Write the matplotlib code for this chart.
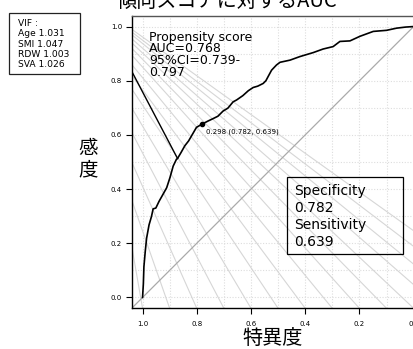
import matplotlib
matplotlib.use("Agg")
import matplotlib.pyplot as plt
from matplotlib.patches import Rectangle

plt.rcParams['font.family'] = ['DejaVu Sans', 'Noto Sans CJK JP']
CJK = ['Noto Sans CJK JP', 'DejaVu Sans']

# ---- data ----
spec = [1.0, 0.997, 0.995, 0.99, 0.985, 0.976, 0.967, 0.961, 0.951, 0.939, 0.930,
        0.911, 0.899, 0.887, 0.875, 0.871, 0.858, 0.844, 0.830, 0.819, 0.801, 0.782,
        0.759, 0.740, 0.722, 0.703, 0.685, 0.666, 0.653, 0.630, 0.610, 0.592, 0.575,
        0.555, 0.545, 0.537, 0.524, 0.506, 0.493, 0.456, 0.420, 0.370, 0.334, 0.297,
        0.272, 0.235, 0.198, 0.149, 0.100, 0.063, 0.030, 0.0]
sens = [0.0, 0.05, 0.113, 0.17, 0.219, 0.268, 0.299, 0.327, 0.330, 0.355, 0.371,
        0.405, 0.442, 0.485, 0.510, 0.513, 0.535, 0.560, 0.578, 0.597, 0.628, 0.639,
        0.651, 0.660, 0.669, 0.688, 0.699, 0.722, 0.729, 0.745, 0.763, 0.775, 0.780,
        0.790, 0.800, 0.815, 0.839, 0.858, 0.868, 0.876, 0.889, 0.904, 0.917, 0.926,
        0.945, 0.947, 0.964, 0.982, 0.986, 0.994, 0.998, 1.0]

best_threshold = 0.298
best_spec = 0.782
best_sens = 0.639
auc = 0.768
ci_low, ci_high = 0.739, 0.797
model_name = "Propensity score"

vif_names = ["Age", "SMI", "RDW", "SVA"]
vif_values = [1.031, 1.047, 1.003, 1.026]

# black reference segment: (spec, sens) end points
seg_spec = [1.04, 0.871]
seg_sens = [0.835, 0.513]

# gray fan lines: height where each meets the left edge, and spec where it meets the bottom edge
fan_left_sens = [0.19, 0.36, 0.50, 0.61, 0.70, 0.77, 0.82, 0.86, 0.895, 0.92, 0.94,
                 0.955, 0.97, 0.98, 0.99]
fan_bottom_spec = [1.0, 0.9, 0.8, 0.7, 0.6, 0.5, 0.4, 0.3, 0.2, 0.1, 0.0,
                   -0.1, -0.2, -0.3, -0.4]

x_ticks = [1.0, 0.8, 0.6, 0.4, 0.2, 0.0]
y_ticks = [0.0, 0.2, 0.4, 0.6, 0.8, 1.0]
grid_vals = [i / 10 for i in range(11)]

title = "傾向スコアに対するAUC"
xlabel = "特異度"
ylabel = "感度"

# ---- figure ----
W, H = 414, 349
fig = plt.figure(figsize=(W / 100, H / 100), dpi=100)

def fx(px):
    return px / W

def fy(py):
    return 1 - py / H

ax = fig.add_axes([fx(131.7), fy(308.3), (424.5 - 131.7) / W, (308.3 - 15.7) / H])
ax.set_xlim(1.04, -0.04)
ax.set_ylim(-0.04, 1.04)

for g in grid_vals:
    ax.axvline(g, color='#dddddd', lw=0.8, ls=(0, (1, 1.5)), zorder=0)
    ax.axhline(g, color='#dddddd', lw=0.8, ls=(0, (1, 1.5)), zorder=0)

for h, b in zip(fan_left_sens, fan_bottom_spec):
    ax.plot([1.04, b], [h, -0.04], color='#d6d6d6', lw=0.8, zorder=1)

ax.plot([1.04, -0.04], [-0.04, 1.04], color='#aaaaaa', lw=0.9, zorder=2)
ax.plot(seg_spec, seg_sens, color='black', lw=1.0, zorder=3)
ax.plot(spec, sens, color='black', lw=1.2, zorder=4)
ax.plot([best_spec], [best_sens], 'o', color='black', ms=3, zorder=5)
ax.text(best_spec - 0.016, best_sens - 0.027,
        f"{best_threshold:.3f} ({best_spec:.3f}, {best_sens:.3f})",
        fontsize=5, va='center', ha='left', zorder=6)

ax.set_xticks(x_ticks)
ax.set_xticklabels([f"{v:.1f}" for v in x_ticks])
ax.set_yticks(y_ticks)
ax.set_yticklabels([f"{v:.1f}" for v in y_ticks])
ax.tick_params(axis='both', direction='out', length=4.5, width=0.8, labelsize=5)
ax.tick_params(axis='x', pad=5)
ax.tick_params(axis='y', pad=2.5)
for s in ax.spines.values():
    s.set_color('black')
    s.set_linewidth(1.0)
ax.spines['top'].set_color('#555555')

# AUC text block
auc_lines = [model_name, f"AUC={auc:.3f}", f"95%CI={ci_low:.3f}-", f"{ci_high:.3f}"]
fig.text(fx(149), fy(31), "\n".join(auc_lines), fontsize=9, ha='left', va='top',
         linespacing=0.85)

# Spec / Sens box
fig.patches.append(Rectangle((fx(286.7), fy(254)), (402.7 - 286.7) / W, (254 - 176.7) / H,
                             transform=fig.transFigure, fill=False, ec='black', lw=0.9,
                             figure=fig))
box_lines = ["Specificity", f"{best_spec:.3f}", "Sensitivity", f"{best_sens:.3f}"]
for i, t in enumerate(box_lines):
    fig.text(fx(294), fy(191 + 16.9 * i), t, fontsize=10, ha='left', va='center')

# VIF box
fig.patches.append(Rectangle((fx(9.3), fy(74)), (80 - 9.3) / W, (74 - 13.3) / H,
                             transform=fig.transFigure, fill=False, ec='#222222', lw=0.9,
                             figure=fig))
vif_lines = ["VIF :"] + [f"{n} {v:.3f}" for n, v in zip(vif_names, vif_values)]
for i, t in enumerate(vif_lines):
    fig.text(fx(18.3), fy(23.3 + 10.4 * i), t, fontsize=6.6, ha='left', va='center')

# title and axis labels
fig.text(fx(226.5), fy(6.5), title, fontsize=14.5, ha='center', va='baseline', family=CJK)
fig.text(fx(272.5), fy(344), xlabel, fontsize=14.5, ha='center', va='baseline', family=CJK)
fig.text(fx(88), fy(159), "\n".join(ylabel), fontsize=14, ha='center', va='center',
         family=CJK, linespacing=1.05)

fig.savefig("out.png", dpi=100)
